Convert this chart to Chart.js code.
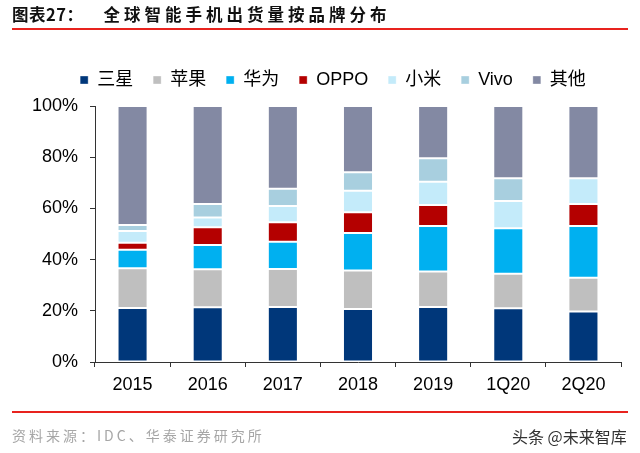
<!DOCTYPE html>
<html>
<head>
<meta charset="utf-8">
<script src="https://cdn.jsdelivr.net/npm/chart.js@4.4.0/dist/chart.umd.min.js"></script>
<style>
  html, body { margin: 0; padding: 0; background: #fff; }
  #wrap { position: relative; width: 640px; height: 453px; overflow: hidden; }
  #c { position: absolute; left: 0; top: 0; }
  .title { position: absolute; left: 12px; top: 3px; font-family: 'Noto Sans CJK SC', sans-serif; font-weight: bold; font-size: 16.5px; color: #111; white-space: nowrap; line-height: 22px; }
  .title .pre { letter-spacing: 0.5px; }
  .title .main { letter-spacing: 4px; margin-left: 20px; }
  .rule { position: absolute; left: 12px; width: 616px; height: 2px; background: #E8231E; }
  .src { position: absolute; left: 12px; top: 425px; font-family: 'Noto Sans CJK SC', sans-serif; font-size: 14px; color: #A6A6A6; letter-spacing: 3px; white-space: nowrap; }
  .wm { position: absolute; left: 512px; top: 424px; font-family: 'Noto Sans CJK SC', sans-serif; font-size: 16px; color: #333; white-space: nowrap; }
</style>
</head>
<body>
<div id="wrap">
  <canvas id="c" width="640" height="453"></canvas>
  <div class="title"><span class="pre">图表27：</span><span class="main">全球智能手机出货量按品牌分布</span></div>
  <div class="rule" style="top:28px"></div>
  <div class="rule" style="top:411px"></div>
  <div class="src">资料来源：IDC、华泰证券研究所</div>
  <div class="wm">头条 @未来智库</div>
</div>
<script>
const categories = ['2015', '2016', '2017', '2018', '2019', '1Q20', '2Q20'];
const seriesNames = ['三星', '苹果', '华为', 'OPPO', '小米', 'Vivo', '其他'];
const samsung = [21.1, 21.4, 21.5, 20.7, 21.5, 21.0, 19.7];
const apple   = [15.5, 14.8, 14.8, 15.0, 13.9, 13.5, 13.2];
const huawei  = [7.2, 9.5, 10.7, 14.7, 17.7, 17.7, 20.2];
const oppo    = [2.8, 6.9, 7.6, 8.1, 8.2, 0, 8.6];
const xiaomi  = [4.6, 3.8, 6.3, 8.4, 9.1, 10.7, 10.1];
const vivo    = [2.3, 5.3, 6.8, 7.2, 9.2, 8.9, 0];
const others  = [46.5, 38.3, 32.3, 25.9, 20.4, 28.2, 28.2];
const yTicks = [0, 20, 40, 60, 80, 100];

const colors = ['#00377A', '#BFBFBF', '#00B0F0', '#B40000', '#C4EBFA', '#A8CFDF', '#8389A3'];
const values = [samsung, apple, huawei, oppo, xiaomi, vivo, others];
const FONT = "'Liberation Sans', 'Noto Sans CJK SC', sans-serif";

const legendSpacer = {
  id: 'legendSpacer',
  afterInit(chart) {
    const lg = chart.legend;
    if (!lg) return;
    const f = lg.fit;
    lg.fit = function () { f.call(this); this.height += 7; };
  }
};

new Chart(document.getElementById('c'), {
  type: 'bar',
  data: {
    labels: categories,
    datasets: seriesNames.map((n, i) => ({
      label: n,
      data: values[i],
      backgroundColor: colors[i],
      borderColor: 'rgba(255,255,255,0.35)',
      borderWidth: 1,
      borderSkipped: false,
      barPercentage: 0.4,
      categoryPercentage: 1.0
    }))
  },
  options: {
    responsive: false,
    animation: false,
    devicePixelRatio: 1,
    layout: { padding: { left: 26, right: 0, top: 51, bottom: 57 } },
    plugins: {
      legend: {
        position: 'top',
        labels: {
          font: { family: FONT, size: 18 },
          color: '#000',
          boxWidth: 8,
          boxHeight: 8,
          padding: 20
        }
      },
      tooltip: { enabled: false }
    },
    scales: {
      x: {
        stacked: true,
        grid: { drawOnChartArea: false, drawTicks: true, tickLength: 5, color: '#333', offset: true },
        border: { color: '#333', width: 1 },
        ticks: { font: { family: FONT, size: 18 }, color: '#000', padding: 7 },
        afterFit(s) { s.height = 34; }
      },
      y: {
        stacked: true,
        min: 0,
        max: 100,
        afterBuildTicks(s) { s.ticks = yTicks.map(v => ({ value: v })); },
        grid: { drawOnChartArea: false, drawTicks: true, tickLength: 5, color: '#333' },
        border: { color: '#333', width: 1 },
        ticks: { font: { family: FONT, size: 18 }, color: '#000', padding: 12, callback: v => v + '%' },
        afterFit(s) { s.width = 69; }
      },
      yPad: {
        position: 'right',
        display: true,
        grid: { display: false, drawTicks: false },
        border: { display: false },
        ticks: { display: false },
        afterFit(s) { s.width = 19; }
      }
    }
  },
  plugins: [legendSpacer]
});
</script>
</body>
</html>
